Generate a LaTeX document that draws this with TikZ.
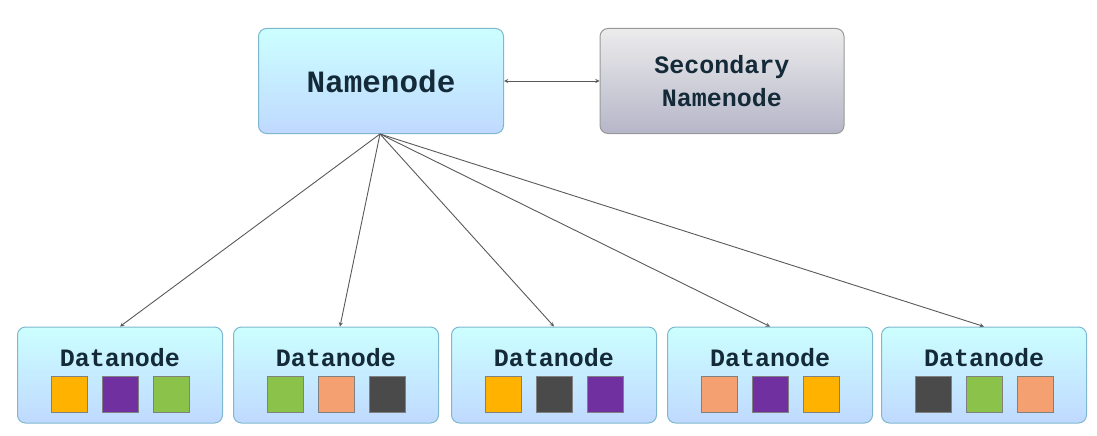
\documentclass[tikz,border=0pt]{standalone}
\usepackage{fontspec}
\setmainfont{Liberation Mono}
\begin{document}
\begin{tikzpicture}[x=1pt,y=-1pt,
  blue box/.style={draw=cyan!50!gray!80, rounded corners=8pt, top color=cyan!20, bottom color=cyan!40!blue!25, line width=1pt},
  gray box/.style={draw=gray!80, rounded corners=8pt, top color=gray!15, bottom color=blue!15!gray!50, line width=1pt},
  sq/.style={minimum size=36pt, inner sep=0pt, draw=black!50, line width=1pt},
  link/.style={draw=black!65, line width=0.9pt, -stealth}]
\definecolor{cO}{HTML}{FFB300}\definecolor{cP}{HTML}{7030A0}\definecolor{cG}{HTML}{8BC34A}
\definecolor{cS}{HTML}{F4A070}\definecolor{cD}{HTML}{4A4A4A}
\definecolor{tx}{HTML}{142A38}
\useasboundingbox (0,0) rectangle (1097,436);
\node[blue box, minimum width=245pt, minimum height=105pt, text=tx, font=\bfseries\fontsize{31}{34}\selectfont] (nn) at (381,81) {Namenode};
\node[gray box, minimum width=244pt, minimum height=105pt, align=center, text=tx, font=\bfseries\fontsize{25}{33}\selectfont] (sn) at (722,81) {Secondary\\Namenode};
\draw[draw=black!65, line width=0.9pt, stealth-stealth] (nn.east) -- (sn.west);
\foreach \i/\cx/\a/\b/\c in {1/120/cO/cP/cG, 2/336/cG/cS/cD, 3/554/cO/cD/cP, 4/770/cS/cP/cO, 5/984/cD/cG/cS}{
  \node[blue box, minimum width=205pt, minimum height=96pt] (d\i) at (\cx,375) {};
  \node[text=tx, font=\bfseries\fontsize{25}{28}\selectfont] (t\i) at (\cx,358) {Datanode};
  \node[sq, fill=\a] (s\i a) at (\cx-51,394) {};
  \node[sq, fill=\b] (s\i b) at (\cx,394) {};
  \node[sq, fill=\c] (s\i c) at (\cx+51,394) {};
}
\coordinate (src) at (380,134);
\draw[link] (src) -- (d1.north);
\draw[link] (src) -- ([xshift=4pt]d2.north);
\draw[link] (src) -- (d3.north);
\draw[link] (src) -- (d4.north);
\draw[link] (src) -- (d5.north);
\end{tikzpicture}
\end{document}
